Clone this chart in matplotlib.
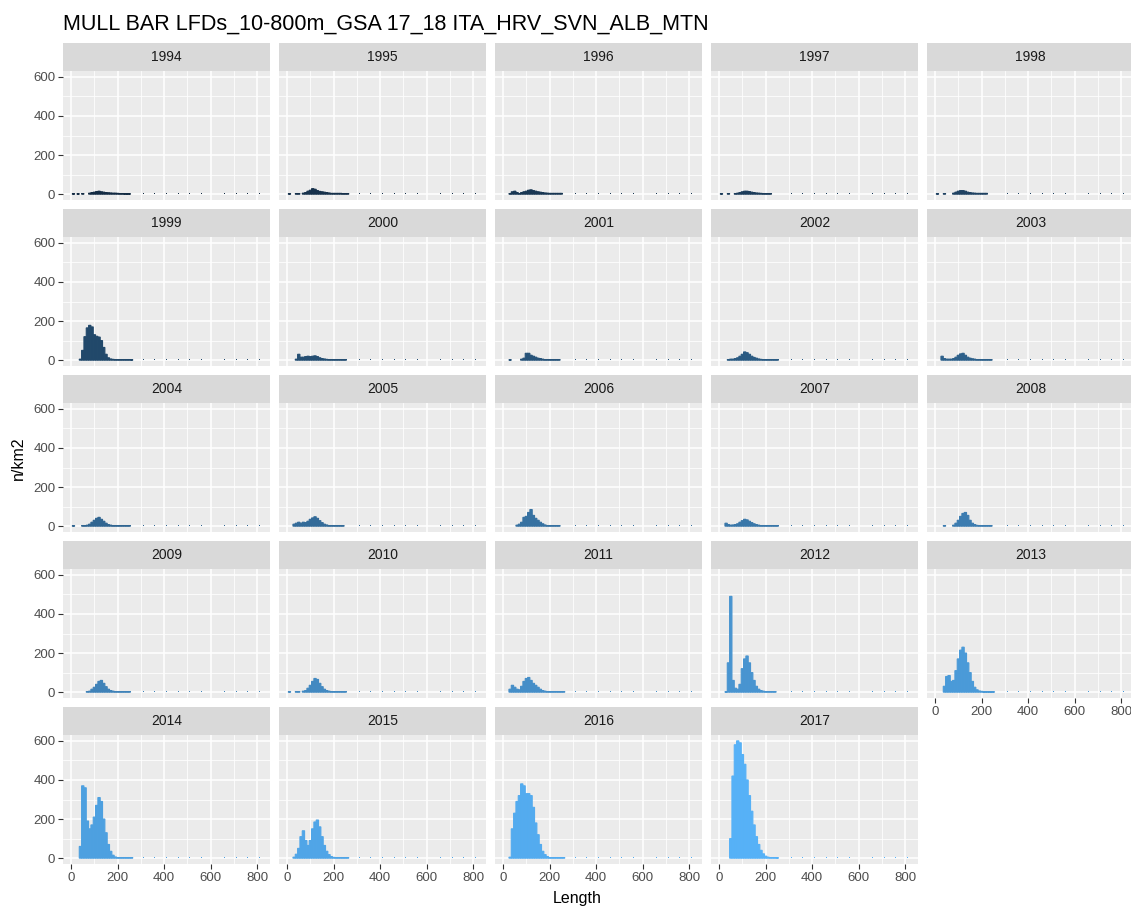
import numpy as np
import matplotlib
matplotlib.use("Agg")
import matplotlib.pyplot as plt
from matplotlib.colors import LinearSegmentedColormap

plt.rcParams["font.family"] = ["Liberation Sans", "DejaVu Sans"]

years = list(range(1994, 2018))

# length classes (mm) carrying the bulk of each distribution
lengths = [10, 20, 30, 40, 50, 60, 70, 80, 90, 100, 110, 120, 130, 140,
           150, 160, 170, 180, 190, 200, 210, 220, 230, 240, 250, 260, 270]

# sparse far-tail classes with near-zero density
tail_lengths = [310, 360, 410, 460, 510, 560, 610, 660, 710, 760, 810]
tail_counts = [4, 4, 4, 4, 4, 4, 4, 4, 4, 4, 4]

# n/km2 per length class, one list per survey year
n_1994 = [2, 0, 2, 0, 3, 0, 0, 5, 8, 10, 13, 15, 12, 10, 8, 7, 6, 5, 5, 4, 3, 3, 2, 2, 2, 0, 0]
n_1995 = [2, 0, 0, 3, 3, 0, 5, 8, 15, 20, 28, 25, 18, 14, 12, 10, 8, 6, 4, 4, 4, 4, 4, 3, 3, 3, 0]
n_1996 = [0, 0, 3, 12, 15, 8, 3, 8, 12, 15, 20, 22, 18, 15, 12, 10, 8, 6, 5, 4, 4, 4, 4, 4, 4, 0, 0]
n_1997 = [2, 0, 0, 3, 0, 0, 3, 5, 8, 12, 15, 15, 13, 10, 8, 6, 5, 4, 3, 3, 3, 3, 0, 0, 0, 0, 0]
n_1998 = [2, 0, 0, 3, 0, 0, 0, 5, 10, 15, 18, 18, 15, 10, 8, 6, 5, 4, 4, 4, 4, 4, 0, 0, 0, 0, 0]
n_1999 = [0, 0, 0, 5, 50, 120, 165, 178, 170, 130, 122, 118, 100, 65, 30, 12, 6, 4, 3, 3, 3, 3, 3, 3, 3, 2, 0]
n_2000 = [0, 0, 0, 5, 30, 15, 15, 18, 20, 18, 20, 22, 18, 12, 8, 6, 4, 3, 3, 3, 3, 3, 3, 3, 3, 0, 0]
n_2001 = [0, 0, 2, 0, 0, 0, 0, 5, 10, 35, 35, 25, 20, 15, 10, 8, 5, 3, 3, 3, 3, 3, 3, 3, 0, 0, 0]
n_2002 = [0, 0, 0, 3, 5, 5, 8, 12, 20, 30, 42, 38, 30, 20, 14, 10, 6, 4, 3, 3, 3, 3, 3, 3, 3, 0, 0]
n_2003 = [0, 0, 20, 8, 5, 5, 5, 8, 15, 25, 32, 35, 25, 15, 10, 7, 5, 3, 3, 3, 3, 3, 3, 3, 0, 0, 0]
n_2004 = [2, 0, 0, 0, 3, 3, 5, 10, 20, 30, 40, 45, 35, 25, 15, 8, 5, 3, 3, 3, 3, 3, 3, 3, 3, 0, 0]
n_2005 = [0, 0, 10, 15, 20, 15, 20, 18, 25, 35, 42, 48, 40, 28, 18, 10, 6, 3, 3, 3, 3, 3, 3, 3, 0, 0, 0]
n_2006 = [0, 0, 0, 0, 0, 5, 10, 20, 45, 50, 70, 85, 55, 40, 30, 20, 12, 6, 3, 3, 3, 3, 3, 3, 0, 0, 0]
n_2007 = [0, 0, 15, 8, 5, 6, 8, 12, 20, 28, 35, 32, 25, 18, 12, 8, 5, 3, 3, 3, 3, 3, 3, 3, 3, 0, 0]
n_2008 = [0, 0, 0, 3, 0, 0, 0, 5, 15, 30, 50, 65, 70, 55, 30, 15, 8, 4, 3, 3, 3, 3, 3, 3, 0, 0, 0]
n_2009 = [0, 0, 0, 0, 0, 0, 3, 5, 15, 25, 40, 55, 60, 45, 28, 15, 8, 5, 3, 3, 3, 3, 3, 3, 3, 0, 0]
n_2010 = [2, 0, 0, 3, 3, 0, 5, 8, 20, 35, 55, 70, 65, 45, 28, 15, 8, 5, 3, 3, 3, 3, 3, 3, 3, 0, 0]
n_2011 = [0, 0, 15, 35, 25, 15, 12, 30, 55, 70, 75, 60, 45, 35, 25, 15, 8, 5, 3, 3, 3, 3, 3, 3, 3, 3, 0]
n_2012 = [0, 0, 2, 150, 490, 60, 20, 15, 40, 120, 170, 185, 150, 100, 60, 30, 15, 8, 5, 3, 3, 3, 3, 3, 0, 0, 0]
n_2013 = [0, 0, 0, 30, 80, 85, 55, 60, 110, 170, 215, 230, 200, 150, 100, 55, 25, 12, 6, 4, 2, 2, 2, 2, 2, 0, 0]
n_2014 = [0, 0, 0, 60, 370, 360, 190, 150, 170, 210, 270, 310, 290, 200, 130, 70, 35, 15, 6, 3, 3, 3, 3, 3, 3, 3, 0]
n_2015 = [0, 0, 5, 20, 50, 110, 140, 90, 65, 90, 150, 185, 195, 160, 110, 65, 35, 18, 8, 4, 3, 3, 3, 3, 3, 3, 0]
n_2016 = [0, 0, 5, 150, 230, 290, 320, 380, 370, 330, 330, 320, 260, 180, 120, 70, 35, 18, 8, 3, 3, 3, 3, 3, 3, 3, 0]
n_2017 = [0, 0, 0, 0, 100, 420, 580, 600, 590, 530, 480, 400, 320, 240, 170, 110, 70, 40, 22, 10, 5, 3, 3, 3, 2, 0, 0]

counts = [n_1994, n_1995, n_1996, n_1997, n_1998, n_1999, n_2000, n_2001,
          n_2002, n_2003, n_2004, n_2005, n_2006, n_2007, n_2008, n_2009,
          n_2010, n_2011, n_2012, n_2013, n_2014, n_2015, n_2016, n_2017]

# continuous fill by year, ggplot default gradient
fill_cmap = LinearSegmentedColormap.from_list("gg", ["#132B43", "#56B1F7"])

W, H = 1131, 910
fig = plt.figure(figsize=(W / 100, H / 100), dpi=100)


def px_axes(left, top, width, height):
    return fig.add_axes([left / W, 1 - (top + height) / H, width / W, height / H])


ncol = 5
col_left = 63
col_step = 216
panel_w = 207
row_top = 43
row_step = 166
strip_h = 28
panel_h = 129

xlim = (-35, 855)
ylim = (-30, 630)

x_len = np.array(lengths)

for i, (year, vals) in enumerate(zip(years, counts)):
    r, c = divmod(i, ncol)
    left = col_left + c * col_step
    top = row_top + r * row_step

    strip = px_axes(left, top, panel_w, strip_h)
    strip.set_facecolor("#D9D9D9")
    strip.set_xticks([])
    strip.set_yticks([])
    for s in strip.spines.values():
        s.set_visible(False)
    strip.text(0.5, 0.5, str(year), ha="center", va="center",
               fontsize=10, color="#1A1A1A", transform=strip.transAxes)

    ax = px_axes(left, top + strip_h, panel_w, panel_h)
    ax.set_facecolor("#EBEBEB")
    for s in ax.spines.values():
        s.set_visible(False)
    ax.set_xlim(*xlim)
    ax.set_ylim(*ylim)
    ax.set_xticks([0, 200, 400, 600, 800])
    ax.set_xticks([100, 300, 500, 700], minor=True)
    ax.set_yticks([0, 200, 400, 600])
    ax.set_yticks([100, 300, 500], minor=True)
    ax.grid(which="major", color="white", linewidth=1.1)
    ax.grid(which="minor", color="white", linewidth=0.55)
    ax.set_axisbelow(True)
    ax.tick_params(which="minor", length=0)
    ax.tick_params(which="major", length=3.5, width=0.8, color="#333333",
                   labelsize=9.5, labelcolor="#4D4D4D", pad=2)

    colour = fill_cmap((year - years[0]) / (years[-1] - years[0]))
    v = np.array(vals)
    keep = v > 0
    bars = ax.bar(x_len[keep], v[keep], width=10, color=colour,
                  edgecolor=colour, linewidth=0.8)
    for b in bars:
        b.set_snap(False)
    ax.bar(tail_lengths, tail_counts, width=4, color=colour, linewidth=0)

    # y labels only on the first column, x labels on the lowest panel of each column
    if c != 0:
        ax.tick_params(axis="y", left=False, labelleft=False)
    below = i + ncol
    if below < len(years):
        ax.tick_params(axis="x", bottom=False, labelbottom=False)

fig.text(63 / W, 1 - 24 / H, "MULL BAR LFDs_10-800m_GSA 17_18 ITA_HRV_SVN_ALB_MTN",
         ha="left", va="center", fontsize=15.5, color="black")
fig.text(18 / W, 1 - 458 / H, "n/km2", rotation=90, ha="center", va="center",
         fontsize=11.5, color="black")
fig.text(577 / W, 1 - 899 / H, "Length", ha="center", va="center",
         fontsize=11.5, color="black")

fig.savefig("out.png", dpi=100, facecolor="white")
